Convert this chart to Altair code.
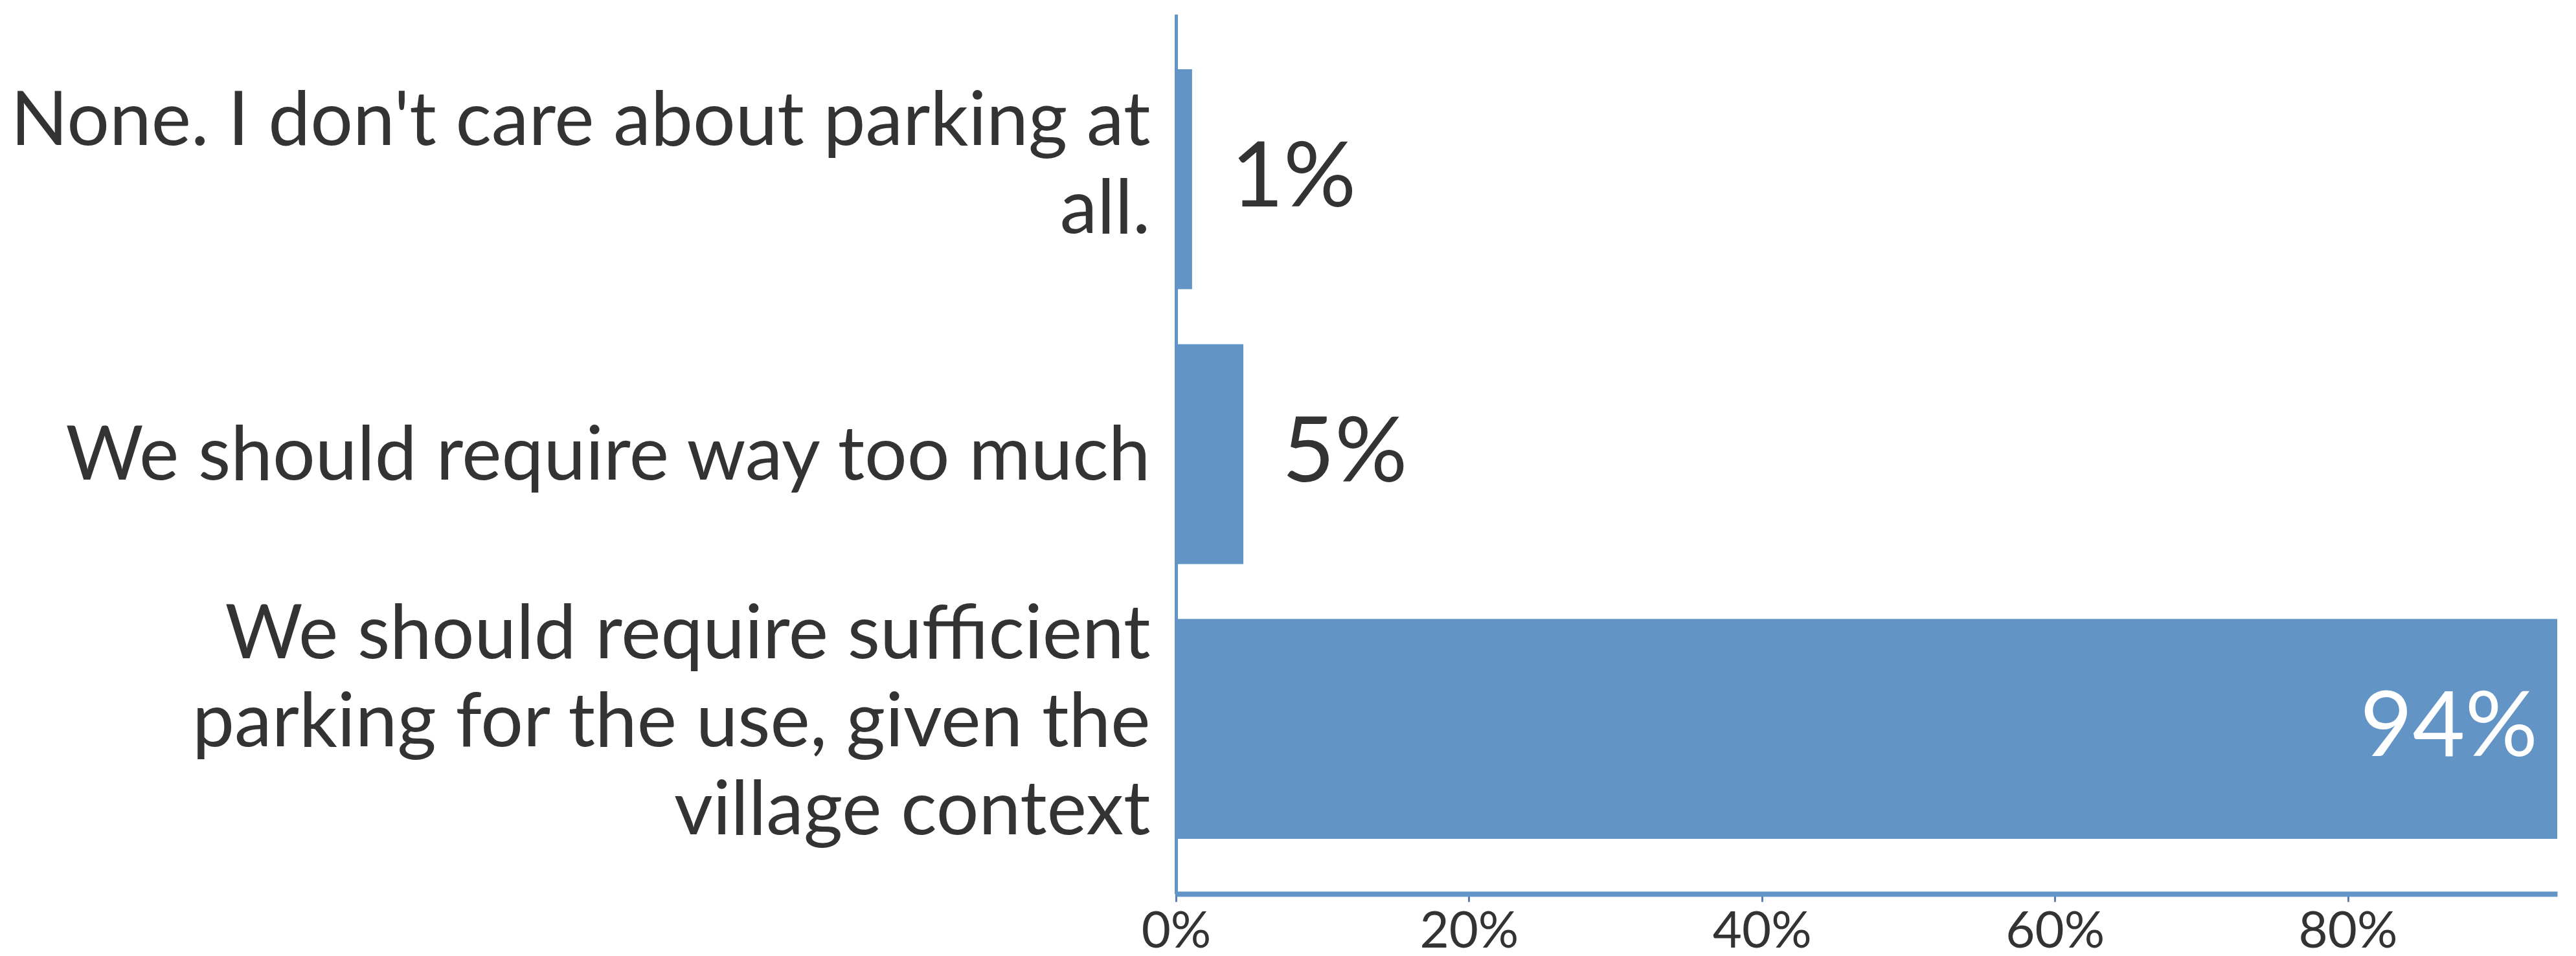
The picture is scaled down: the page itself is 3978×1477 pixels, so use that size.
import altair as alt
import pandas as pd

categories = [
    "None. I don't care about parking at|all.",
    "We should require way too much",
    "We should require sufficient|parking for the use, given the|village context",
]
values = [1.1, 4.6, 94.3]
value_labels = ["1%", "5%", "94%"]
tick_values = [0, 20, 40, 60, 80]

df = pd.DataFrame({"cat": categories, "val": values, "lab": value_labels})

FONT = "Lato"
BLUE = "#6294c6"
TEXT = "#333333"
LINE_H = 136

label_offset = {
    "condition": [
        {"test": "length(split(datum.label, '|')) == 3", "value": -LINE_H - 8},
        {"test": "length(split(datum.label, '|')) == 2", "value": -LINE_H / 2 - 20},
    ],
    "value": 4,
}

y_enc = alt.Y(
    "cat:N",
    sort=categories,
    scale=alt.Scale(paddingInner=0.2, paddingOuter=0.2),
    axis=alt.Axis(
        title=None,
        ticks=False,
        labelExpr="split(datum.label, '|')",
        labelFont=FONT,
        labelFontSize=116,
        labelColor=TEXT,
        labelLineHeight=LINE_H,
        labelPadding=40,
        labelLimit=3000,
        labelOffset=label_offset,
        domainColor=BLUE,
        domainWidth=5,
        minExtent=1808,
        maxExtent=1808,
    ),
)
x_enc = alt.X(
    "val:Q",
    scale=alt.Scale(domain=[0, 94.3], nice=False, zero=True),
    axis=alt.Axis(
        title=None,
        values=tick_values,
        labelExpr="datum.value + '%'",
        labelFont=FONT,
        labelFontSize=78,
        labelColor=TEXT,
        labelPadding=8,
        labelFlush=False,
        grid=False,
        domainColor=BLUE,
        domainWidth=8,
        tickColor="#5a7fae",
        tickSize=12,
        tickWidth=3,
    ),
)

base = alt.Chart(df).encode(y=y_enc)

bars = base.mark_bar(color=BLUE).encode(x=x_enc)

outside = base.transform_filter("datum.val < 50").mark_text(
    align="left", baseline="middle", dx=60, font=FONT, fontSize=140, color=TEXT
).encode(x=alt.X("val:Q"), text="lab:N")

inside = base.transform_filter("datum.val >= 50").mark_text(
    align="right", baseline="middle", dx=-30, font=FONT, fontSize=140, color="white"
).encode(x=alt.X("val:Q"), text="lab:N")

chart = (
    alt.layer(bars, outside, inside)
    .properties(
        width=2133,
        height=1359,
        padding={"left": 0, "top": 14, "right": 10, "bottom": 5},
        background="white",
    )
    .configure_view(stroke=None)
)

chart.save("out.html", embed_options={"renderer": "svg", "actions": False})
